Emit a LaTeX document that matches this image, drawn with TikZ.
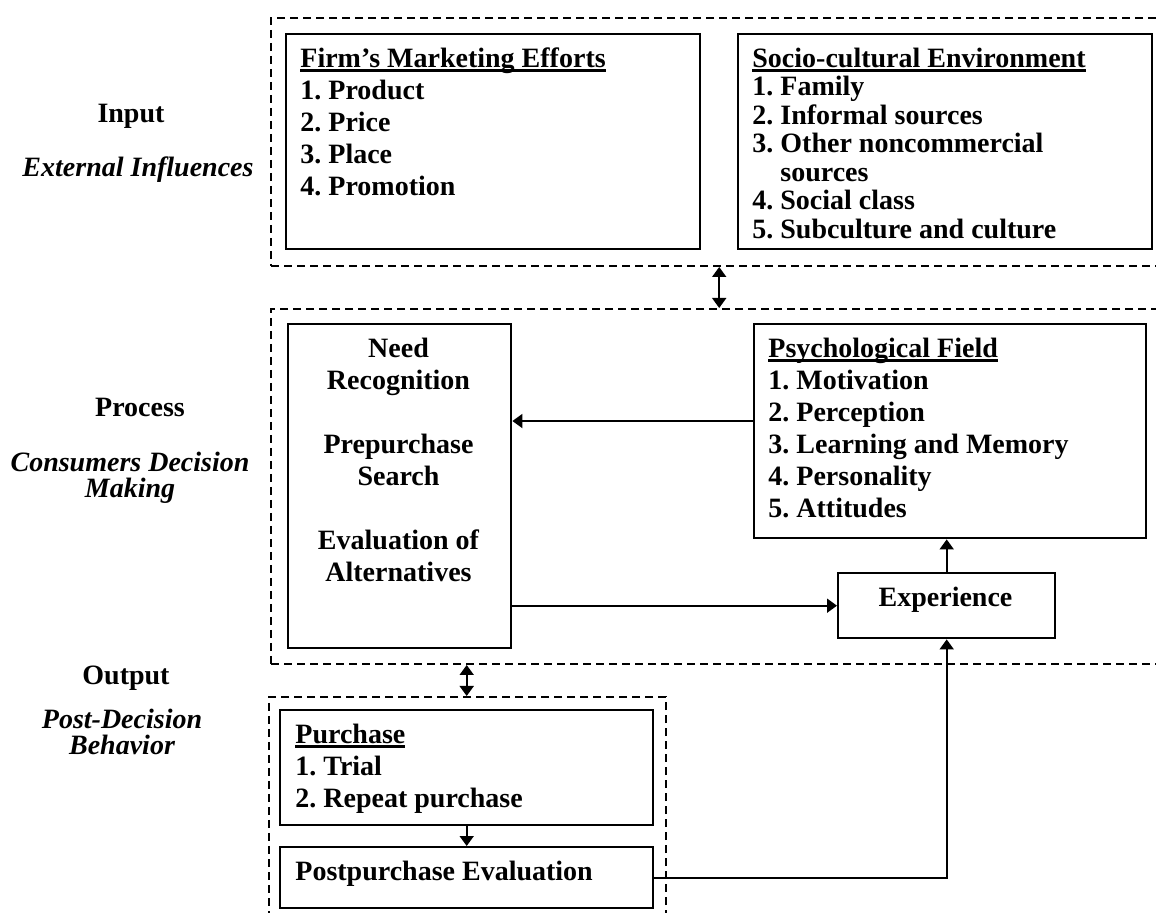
\documentclass[tikz,border=0pt]{standalone}
\usepackage{fontspec}
\setmainfont{Liberation Serif}
\usetikzlibrary{arrows.meta,calc}
\frenchspacing

% heading with a rule that runs just under the baseline
\newcommand\ulhead[1]{\setbox0\hbox{#1}\rlap{\rule[-2.1pt]{\wd0}{1.1pt}}\box0}
% fixed height for the first line, so the top of a text block is predictable
\newcommand\firststrut{\rule{0pt}{12pt}}

\tikzset{
  box/.style={draw, line width=1.2pt, rectangle, inner sep=0pt, anchor=north west},
  dashframe/.style={draw, dash pattern=on 4pt off 2.5pt, line width=1pt, rectangle, inner sep=0pt, anchor=north west},
  txt/.style={font=\fontsize{14}{16}\selectfont\bfseries, align=left, inner sep=0pt, anchor=north west},
  side/.style={font=\fontsize{14}{16}\selectfont\bfseries, align=center, inner sep=0pt, anchor=north},
  sideit/.style={side, font=\fontsize{14}{13}\selectfont\bfseries\itshape},
  arr/.style={line width=0.9pt, -{Triangle[length=5pt,width=7pt]}},
  dbl/.style={line width=0.9pt, {Triangle[length=5pt,width=7pt]}-{Triangle[length=5pt,width=7pt]}},
}

\begin{document}
\begin{tikzpicture}[x=0.5pt,y=-0.5pt]
\path[use as bounding box] (0,0) rectangle (1156,913);
\clip (0,0) rectangle (1156,913);

% dashed stage frames
\node[dashframe, minimum width=455pt, minimum height=124pt] (inframe) at (270,17) {};
\node[dashframe, minimum width=455pt, minimum height=177.5pt] (procframe) at (270,308) {};
\node[dashframe, minimum width=198.5pt, minimum height=120pt] (outframe) at (268,696) {};

% stage labels
\node[side] (lin) at (131,98) {\firststrut Input};
\node[sideit] (lext) at (138,152) {\firststrut External Influences};
\node[side] (lproc) at (140,392) {\firststrut Process};
\node[sideit] (lcdm) at (130,447) {\firststrut Consumers Decision\\Making};
\node[side] (lout) at (126,660) {\firststrut Output};
\node[sideit] (lpdb) at (122,704) {\firststrut Post-Decision\\Behavior};

% input boxes
\node[box, minimum width=207pt, minimum height=107.5pt] (firm) at (285,33) {};
\node[txt] (firmtext) at (300,43) {\firststrut\ulhead{Firm’s Marketing Efforts}\\1. Product\\2. Price\\3. Place\\4. Promotion};

\node[box, minimum width=207pt, minimum height=107.5pt] (socio) at (737,33) {};
\node[txt, font=\fontsize{14}{14.25}\selectfont\bfseries] (sociotext) at (752,43) {\firststrut\ulhead{Socio-cultural Environment}\\1. Family\\2. Informal sources\\3. Other noncommercial\\\hphantom{3.}\ sources\\4. Social class\\5. Subculture and culture};

% process boxes
\node[box, minimum width=111.5pt, minimum height=162pt] (dec) at (287,323) {};
\node[txt, align=center, anchor=north] (dectext) at (398.5,333) {\firststrut Need\\Recognition\\[16pt]Prepurchase\\Search\\[16pt]Evaluation of\\Alternatives};

\node[box, minimum width=196pt, minimum height=107pt] (psych) at (753,323) {};
\node[txt] (psychtext) at (768,333) {\firststrut\ulhead{Psychological Field}\\1. Motivation\\2. Perception\\3. Learning and Memory\\4. Personality\\5. Attitudes};

\node[box, minimum width=108.5pt, minimum height=32.5pt] (exp) at (837,572) {};
\node[txt, anchor=base] (exptext) at (945.5,607) {Experience};

% output boxes
\node[box, minimum width=186.5pt, minimum height=57.5pt] (purchase) at (279,709) {};
\node[txt] (purchasetext) at (295,719) {\firststrut\ulhead{Purchase}\\1. Trial\\2. Repeat purchase};

\node[box, minimum width=186.5pt, minimum height=30.5pt] (post) at (279,846) {};
\node[txt, anchor=base west] (posttext) at (295,880) {Postpurchase Evaluation};

% connectors
\coordinate (gapIS) at ($(firm.east)!0.5!(socio.west)$);
\draw[dbl] (gapIS |- inframe.south) -- (gapIS |- procframe.north);
\draw[dbl] (purchase.north |- procframe.south) -- (purchase.north |- outframe.north);

\coordinate (psyout) at ($(psych.north west)!0.453!(psych.south west)$);
\draw[arr] (psyout) -- (psyout -| dec.east);
\draw[arr] (dec.east |- exp.west) -- (exp.west);
\draw[arr] (exp.north) -- (exp.north |- psych.south);
\draw[arr] (purchase.south) -- (post.north);
\draw[arr] (post.east) -| (exp.south);
\end{tikzpicture}
\end{document}
